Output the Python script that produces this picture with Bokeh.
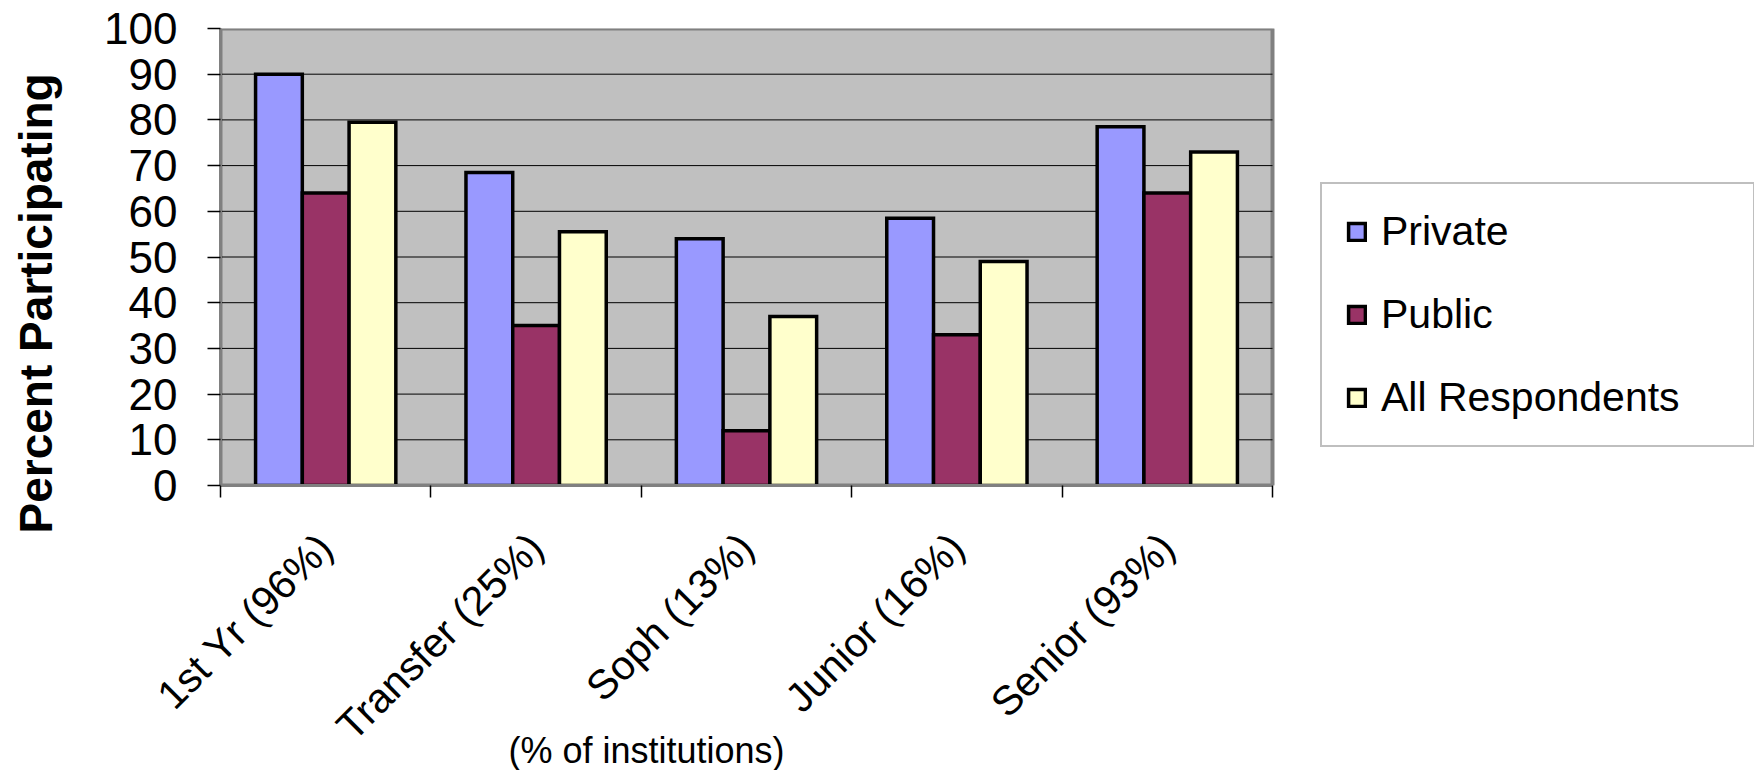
import math
from bokeh.plotting import figure
from bokeh.models import Range1d, FixedTicker, Legend, LegendItem, Title, BoxAnnotation
from bokeh.embed import file_html
from bokeh.resources import INLINE

categories = ["1st Yr (96%)", "Transfer (25%)", "Soph (13%)", "Junior (16%)", "Senior (93%)"]
private = [90, 68.5, 54, 58.5, 78.5]
public = [64, 35, 12, 33, 64]
all_respondents = [79.5, 55.5, 37, 49, 73]
series_names = ["Private", "Public", "All Respondents"]
series_colors = ["#9999FF", "#993366", "#FFFFCC"]
y_ticks = list(range(0, 101, 10))

FONT = "Liberation Sans"

W, H = 1754, 770
BL, BT, BB = 220, 28, 285
PLOT_W = 1052            # width in px of the grey plot area
N = len(categories)
YMAX = 100
XMAX = N * (W - BL) / PLOT_W   # frame runs to the right edge so the legend fits inside it

p = figure(width=W, height=H, x_range=Range1d(0, XMAX), y_range=Range1d(0, YMAX),
           output_backend="svg", toolbar_location=None)
p.min_border_left = BL
p.min_border_top = BT
p.min_border_right = 0
p.min_border_bottom = BB
p.background_fill_color = "white"
p.border_fill_color = "white"
p.outline_line_color = None
p.xgrid.visible = False
p.ygrid.visible = False

# grey plot area with its border
p.add_layout(BoxAnnotation(left=0, right=N, bottom=0, top=YMAX, fill_color="#C0C0C0", fill_alpha=1,
                           line_color="#808080", line_width=4, line_alpha=1, level="underlay"))
# horizontal gridlines
gy = y_ticks[1:-1]
p.segment(x0=[0] * len(gy), x1=[N] * len(gy), y0=gy, y1=gy, line_color="black", line_width=1)

bar_w = 1.0 / 4.5
centers = [i + 0.5 for i in range(N)]
renderers = []
for k, (vals, color) in enumerate(zip([private, public, all_respondents], series_colors)):
    xs = [c + (k - 1) * bar_w for c in centers]
    r = p.vbar(x=xs, top=vals, bottom=0, width=bar_w, fill_color=color,
               line_color="black", line_width=3.5, line_join="miter")
    renderers.append(r)

xa = p.xaxis[0]
xa.bounds = (0, N)
xa.ticker = FixedTicker(ticks=centers, minor_ticks=list(range(N + 1)))
xa.major_label_overrides = {c: lab for c, lab in zip(centers, categories)}
xa.major_tick_in = 0
xa.major_tick_out = 0
xa.minor_tick_in = 0
xa.minor_tick_out = 12
xa.minor_tick_line_color = "black"
xa.minor_tick_line_width = 1.5
xa.axis_line_color = "#808080"
xa.axis_line_width = 3
xa.major_label_orientation = math.pi / 4
xa.major_label_standoff = 43
xa.major_label_text_font = FONT
xa.major_label_text_font_size = "41px"
xa.major_label_text_color = "black"

ya = p.yaxis[0]
ya.ticker = FixedTicker(ticks=y_ticks, minor_ticks=[])
ya.major_tick_in = 0
ya.major_tick_out = 13
ya.major_tick_line_color = "black"
ya.major_tick_line_width = 1.5
ya.minor_tick_out = 0
ya.axis_line_color = "#808080"
ya.axis_line_width = 3
ya.major_label_standoff = 30
ya.major_label_text_font = FONT
ya.major_label_text_font_size = "44px"
ya.major_label_text_color = "black"
# blank axis label only used as spacing between tick labels and the title
ya.axis_label = " "
ya.axis_label_text_font_size = "1px"
ya.axis_label_standoff = 35

ytitle = Title(text="Percent Participating", align="left", offset=-48, vertical_align="bottom",
               standoff=0, text_font=FONT, text_font_size="46px", text_font_style="bold",
               text_color="black")
p.add_layout(ytitle, "left")

xtitle = Title(text="(% of institutions)", align="left", offset=288, vertical_align="top",
               standoff=-78, text_font=FONT, text_font_size="36px", text_font_style="normal",
               text_color="black")
p.add_layout(xtitle, "below")

legend = Legend(items=[LegendItem(label=n, renderers=[r]) for n, r in zip(series_names, renderers)],
                location=(PLOT_W + 48, 38), label_text_font=FONT, label_text_font_size="41px",
                label_text_color="black", label_height=44,
                glyph_width=21, glyph_height=21, label_standoff=14, padding=24, spacing=36,
                border_line_color="#808080", border_line_width=2, label_width=348,
                background_fill_color="white", margin=0)
p.add_layout(legend, "center")

open("out.html", "w").write(file_html(p, INLINE))
